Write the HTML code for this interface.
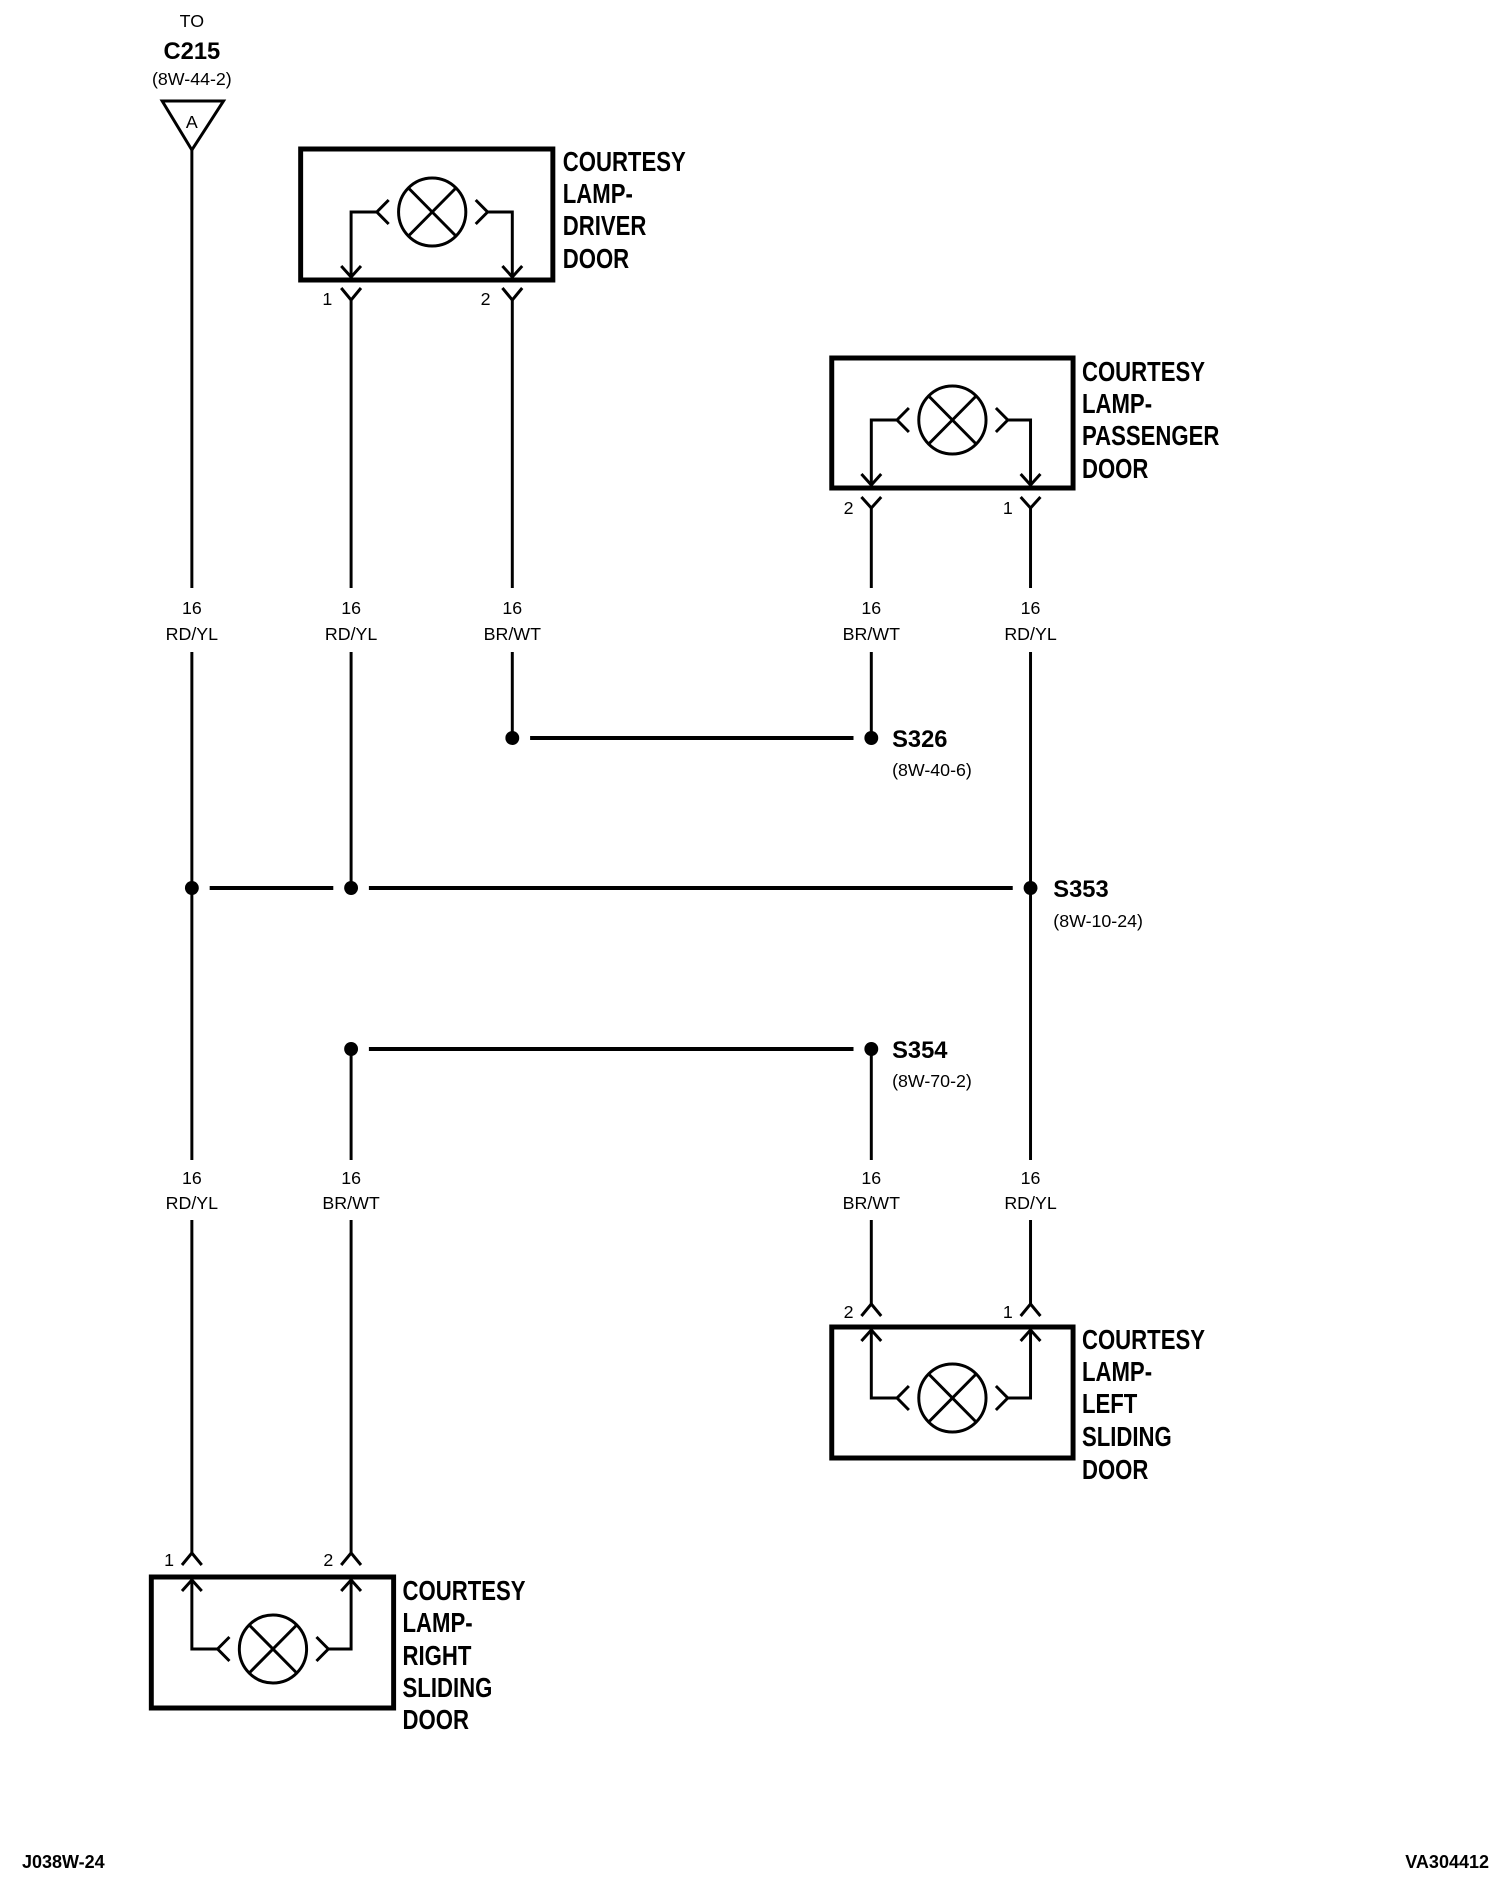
<!DOCTYPE html>
<html><head><meta charset="utf-8"><style>
html,body{margin:0;padding:0;background:#fff}
svg{display:block}
.b{font-family:"Liberation Sans",sans-serif;font-weight:bold;font-size:28px}
.m{font-family:"Liberation Sans",sans-serif;font-weight:bold;font-size:24px}
.s{font-family:"Liberation Sans",sans-serif;font-size:18px}
</style></head><body>
<svg width="1504" height="1882" viewBox="0 0 1504 1882" xmlns="http://www.w3.org/2000/svg">
<g transform="scale(0.989,1)">
<g fill="none" stroke="#000" stroke-width="3">
<polygon points="164,101 226,101 194,150"/>
<line x1="194" y1="150" x2="194" y2="588"/><line x1="194" y1="652" x2="194" y2="1160"/><line x1="194" y1="1220" x2="194" y2="1553"/>
<line x1="355" y1="300" x2="355" y2="588"/><line x1="355" y1="652" x2="355" y2="888"/><line x1="355" y1="1049" x2="355" y2="1160"/><line x1="355" y1="1220" x2="355" y2="1553"/>
<line x1="518" y1="300" x2="518" y2="588"/><line x1="518" y1="652" x2="518" y2="738"/>
<line x1="881" y1="508" x2="881" y2="588"/><line x1="881" y1="652" x2="881" y2="738"/><line x1="881" y1="1049" x2="881" y2="1160"/><line x1="881" y1="1220" x2="881" y2="1304"/>
<line x1="1042" y1="508" x2="1042" y2="588"/><line x1="1042" y1="652" x2="1042" y2="1160"/><line x1="1042" y1="1220" x2="1042" y2="1304"/>
<line x1="536" y1="738" x2="863" y2="738" stroke-width="4"/>
<line x1="212" y1="888" x2="337" y2="888" stroke-width="4"/>
<line x1="373" y1="888" x2="1024" y2="888" stroke-width="4"/>
<line x1="373" y1="1049" x2="863" y2="1049" stroke-width="4"/>

<rect x="304" y="149" width="255" height="131" stroke-width="5"/>
<circle cx="437" cy="212" r="34"/>
<line x1="413" y1="188" x2="461" y2="236"/><line x1="461" y1="188" x2="413" y2="236"/>
<polyline points="355,277 355,212 381,212"/><polyline points="393,200 381,212 393,224"/>
<polyline points="518,277 518,212 493,212"/><polyline points="481,200 493,212 481,224"/>
<polyline points="345,266 355,277 365,266"/><polyline points="508,266 518,277 528,266"/>
<polyline points="345,288 355,300 365,288"/><polyline points="508,288 518,300 528,288"/>

<rect x="841" y="358" width="244" height="130" stroke-width="5"/>
<circle cx="963" cy="420" r="34"/>
<line x1="939" y1="396" x2="987" y2="444"/><line x1="987" y1="396" x2="939" y2="444"/>
<polyline points="881,485 881,420 907,420"/><polyline points="919,408 907,420 919,432"/>
<polyline points="1042,485 1042,420 1019,420"/><polyline points="1007,408 1019,420 1007,432"/>
<polyline points="871,474 881,485 891,474"/><polyline points="1032,474 1042,485 1052,474"/>
<polyline points="871,497 881,508 891,497"/><polyline points="1032,497 1042,508 1052,497"/>

<rect x="841" y="1327" width="244" height="131" stroke-width="5"/>
<circle cx="963" cy="1398" r="34"/>
<line x1="939" y1="1374" x2="987" y2="1422"/><line x1="987" y1="1374" x2="939" y2="1422"/>
<polyline points="881,1330 881,1398 907,1398"/><polyline points="919,1386 907,1398 919,1410"/>
<polyline points="1042,1330 1042,1398 1019,1398"/><polyline points="1007,1386 1019,1398 1007,1410"/>
<polyline points="871,1341 881,1330 891,1341"/><polyline points="1032,1341 1042,1330 1052,1341"/>
<polyline points="871,1316 881,1304 891,1316"/><polyline points="1032,1316 1042,1304 1052,1316"/>

<rect x="153" y="1577" width="245" height="131" stroke-width="5"/>
<circle cx="276" cy="1649" r="34"/>
<line x1="252" y1="1625" x2="300" y2="1673"/><line x1="300" y1="1625" x2="252" y2="1673"/>
<polyline points="194,1580 194,1649 220,1649"/><polyline points="232,1637 220,1649 232,1661"/>
<polyline points="355,1580 355,1649 332,1649"/><polyline points="320,1637 332,1649 320,1661"/>
<polyline points="184,1591 194,1580 204,1591"/><polyline points="345,1591 355,1580 365,1591"/>
<polyline points="184,1565 194,1553 204,1565"/><polyline points="345,1565 355,1553 365,1565"/>
</g>
<g fill="#000">
<circle cx="518" cy="738" r="7"/><circle cx="881" cy="738" r="7"/>
<circle cx="194" cy="888" r="7"/><circle cx="355" cy="888" r="7"/><circle cx="1042" cy="888" r="7"/>
<circle cx="355" cy="1049" r="7"/><circle cx="881" cy="1049" r="7"/>
</g>
<g fill="#000">
<text class="s" x="194" y="27" text-anchor="middle">TO</text>
<text class="m" x="194" y="59" text-anchor="middle">C215</text>
<text class="s" x="194" y="85" text-anchor="middle">(8W-44-2)</text>
<text class="s" x="194" y="128" text-anchor="middle">A</text>

<g text-anchor="middle" class="s">
<text x="194" y="614">16</text><text x="194" y="640">RD/YL</text>
<text x="355" y="614">16</text><text x="355" y="640">RD/YL</text>
<text x="518" y="614">16</text><text x="518" y="640">BR/WT</text>
<text x="881" y="614">16</text><text x="881" y="640">BR/WT</text>
<text x="1042" y="614">16</text><text x="1042" y="640">RD/YL</text>
<text x="194" y="1184">16</text><text x="194" y="1209">RD/YL</text>
<text x="355" y="1184">16</text><text x="355" y="1209">BR/WT</text>
<text x="881" y="1184">16</text><text x="881" y="1209">BR/WT</text>
<text x="1042" y="1184">16</text><text x="1042" y="1209">RD/YL</text>
</g>
<g class="s">
<text x="326" y="305">1</text><text x="486" y="305">2</text>
<text x="853" y="514">2</text><text x="1014" y="514">1</text>
<text x="853" y="1318">2</text><text x="1014" y="1318">1</text>
<text x="166" y="1566">1</text><text x="327" y="1566">2</text>
</g>

<text class="m" x="902" y="747">S326</text><text class="s" x="902" y="776">(8W-40-6)</text>
<text class="m" x="1065" y="897">S353</text><text class="s" x="1065" y="927">(8W-10-24)</text>
<text class="m" x="902" y="1058">S354</text><text class="s" x="902" y="1087">(8W-70-2)</text>

<g class="b">
<text transform="translate(569,171) scale(0.8,1)">COURTESY</text>
<text transform="translate(569,203) scale(0.8,1)">LAMP-</text>
<text transform="translate(569,235) scale(0.8,1)">DRIVER</text>
<text transform="translate(569,268) scale(0.8,1)">DOOR</text>
<text transform="translate(1094,381) scale(0.8,1)">COURTESY</text>
<text transform="translate(1094,413) scale(0.8,1)">LAMP-</text>
<text transform="translate(1094,445) scale(0.8,1)">PASSENGER</text>
<text transform="translate(1094,478) scale(0.8,1)">DOOR</text>
<text transform="translate(1094,1349) scale(0.8,1)">COURTESY</text>
<text transform="translate(1094,1381) scale(0.8,1)">LAMP-</text>
<text transform="translate(1094,1413) scale(0.8,1)">LEFT</text>
<text transform="translate(1094,1446) scale(0.8,1)">SLIDING</text>
<text transform="translate(1094,1479) scale(0.8,1)">DOOR</text>
<text transform="translate(407,1600) scale(0.8,1)">COURTESY</text>
<text transform="translate(407,1632) scale(0.8,1)">LAMP-</text>
<text transform="translate(407,1665) scale(0.8,1)">RIGHT</text>
<text transform="translate(407,1697) scale(0.8,1)">SLIDING</text>
<text transform="translate(407,1729) scale(0.8,1)">DOOR</text>
</g>
</g>
</g>
<text class="s" x="22" y="1868" font-weight="bold">J038W-24</text>
<text class="s" x="1489" y="1868" text-anchor="end" font-weight="bold">VA304412</text>
</svg>
</body></html>
